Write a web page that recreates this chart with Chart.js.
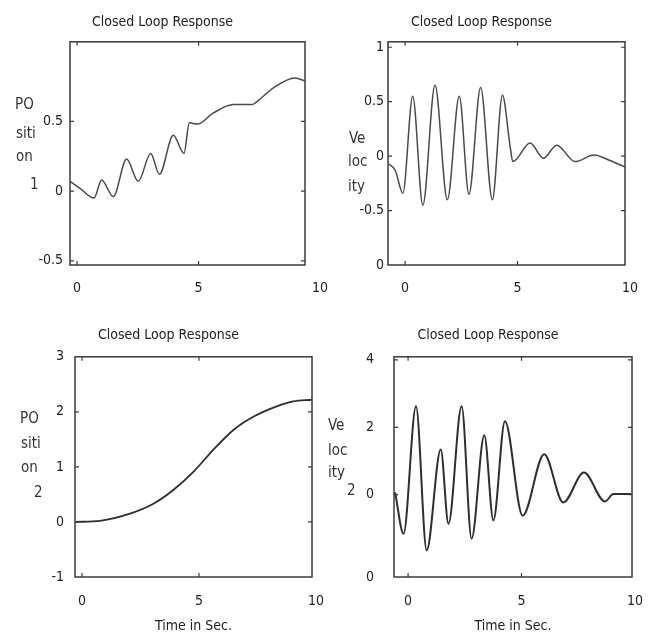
<!DOCTYPE html>
<html>
<head>
<meta charset="utf-8">
<script src="https://cdn.jsdelivr.net/npm/chart.js@4.4.1/dist/chart.umd.min.js"></script>
<style>
  html, body { margin: 0; padding: 0; background: #fff; width: 651px; height: 638px; overflow: hidden; }
  canvas { position: absolute; }
  .yl { position: absolute; font: 15px 'Liberation Sans Narrow', 'DejaVu Sans Condensed', sans-serif; color: #333; line-height: 16px; white-space: nowrap; }
</style>
</head>
<body>
<canvas id="c1" width="332" height="310" style="left:20px;top:0px"></canvas>
<canvas id="c2" width="322" height="310" style="left:338px;top:0px"></canvas>
<canvas id="c3" width="332" height="328" style="left:25px;top:310px"></canvas>
<canvas id="c4" width="324" height="328" style="left:344px;top:310px"></canvas>

<span class="yl" style="left:15px;top:96px">PO</span>
<span class="yl" style="left:16px;top:125px">siti</span>
<span class="yl" style="left:16px;top:148px">on</span>
<span class="yl" style="left:30px;top:176px">1</span>

<span class="yl" style="left:349px;top:130px">Ve</span>
<span class="yl" style="left:348px;top:153px">loc</span>
<span class="yl" style="left:348px;top:178px">ity</span>

<span class="yl" style="left:20px;top:410px">PO</span>
<span class="yl" style="left:21px;top:435px">siti</span>
<span class="yl" style="left:21px;top:459px">on</span>
<span class="yl" style="left:34px;top:484px">2</span>

<span class="yl" style="left:328px;top:417px">Ve</span>
<span class="yl" style="left:328px;top:442px">loc</span>
<span class="yl" style="left:328px;top:464px">ity</span>
<span class="yl" style="left:347px;top:482px">2</span>

<script>
const xTicks = [0, 5, 10];

// position 1 (top left)
const pos1Time = [-0.29, 0.12, 0.70, 1.01, 1.49, 2.04, 2.52, 3.03, 3.39, 3.96, 4.40, 4.62, 4.95, 5.61, 6.43, 7.19, 7.53, 8.08, 8.97, 9.38];
const pos1 = [0.07, 0.02, -0.05, 0.08, -0.04, 0.23, 0.07, 0.27, 0.12, 0.40, 0.27, 0.49, 0.48, 0.56, 0.62, 0.62, 0.66, 0.74, 0.81, 0.79];
const pos1Ticks = [-0.5, 0, 0.5];

// velocity 1 (top right)
const vel1Time = [-0.74, -0.44, -0.10, 0.34, 0.79, 1.33, 1.88, 2.41, 2.84, 3.36, 3.88, 4.33, 4.67, 4.79, 5.56, 6.15, 6.74, 7.56, 8.40, 9.11, 9.78];
const vel1 = [-0.07, -0.13, -0.34, 0.55, -0.45, 0.65, -0.40, 0.55, -0.35, 0.63, -0.40, 0.56, 0.09, -0.05, 0.12, -0.02, 0.10, -0.05, 0.01, -0.04, -0.10];
const vel1Ticks = [-1, -0.5, 0, 0.5, 1];
const vel1TickLabels = ['0', '-0.5', '0', '0.5', '1'];

// position 2 (bottom left)
const pos2Time = [-0.3, 0.77, 2.05, 3.05, 3.9, 4.76, 5.61, 6.47, 7.32, 8.32, 9.03, 9.82];
const pos2 = [0, 0.02, 0.15, 0.33, 0.58, 0.91, 1.31, 1.67, 1.91, 2.10, 2.19, 2.22];
const pos2Ticks = [-1, 0, 1, 2, 3];

// velocity 2 (bottom right)
const vel2Time = [-0.57, -0.2, 0.35, 0.82, 1.44, 1.78, 2.36, 2.8, 3.36, 3.76, 4.27, 5.05, 6.0, 6.84, 7.75, 8.68, 9.05, 9.85];
const vel2 = [0.07, -1.16, 2.62, -1.65, 1.34, -0.86, 2.62, -1.30, 1.76, -0.76, 2.18, -0.62, 1.20, -0.23, 0.66, -0.20, 0.02, 0.02];
const vel2Ticks = [-2.44, 0, 2, 4];
const vel2TickLabels = ['0', '0', '2', '4'];

Chart.defaults.font.family = "'Liberation Sans Narrow', 'DejaVu Sans Condensed', sans-serif";
Chart.defaults.color = '#222';

// box round the plot + small inward ticks
const frame = {
    id: 'frame',
    afterDatasetsDraw(chart) {
        const a = chart.chartArea;
        const ctx = chart.ctx;
        const sx = chart.scales.x, sy = chart.scales.y;
        ctx.save();
        ctx.strokeStyle = '#3a3a3a';
        ctx.lineWidth = 1.5;
        ctx.strokeRect(a.left, a.top, a.right - a.left, a.bottom - a.top);
        ctx.lineWidth = 1.2;
        ctx.beginPath();
        sx.ticks.forEach(t => {
            if (t.value <= sx.min || t.value >= sx.max) return;
            const px = sx.getPixelForValue(t.value);
            ctx.moveTo(px, a.top); ctx.lineTo(px, a.top + 4);
            ctx.moveTo(px, a.bottom); ctx.lineTo(px, a.bottom - 4);
        });
        sy.ticks.forEach(t => {
            if (t.value <= sy.min || t.value >= sy.max) return;
            const py = sy.getPixelForValue(t.value);
            ctx.moveTo(a.left, py); ctx.lineTo(a.left + 4, py);
            ctx.moveTo(a.right, py); ctx.lineTo(a.right - 4, py);
        });
        ctx.stroke();
        ctx.restore();
    }
};

function makeChart(id, o) {
    return new Chart(document.getElementById(id), {
        type: 'line',
        data: {
            datasets: [{
                data: o.xs.map((x, i) => ({ x: x, y: o.ys[i] })),
                borderColor: o.color,
                borderWidth: o.width,
                pointRadius: 0,
                cubicInterpolationMode: 'monotone',
                fill: false
            }]
        },
        options: {
            responsive: false,
            animation: false,
            events: [],
            layout: { padding: { right: o.padRight } },
            plugins: {
                legend: { display: false },
                tooltip: { enabled: false },
                title: {
                    display: true,
                    text: 'Closed Loop Response',
                    color: '#222',
                    font: { size: 14, weight: 'normal', lineHeight: 1.2 },
                    padding: o.titlePad
                }
            },
            scales: {
                x: {
                    type: 'linear',
                    min: o.xMin, max: o.xMax,
                    grid: { display: false, drawTicks: false },
                    border: { display: false },
                    afterBuildTicks: s => { s.ticks = xTicks.map(v => ({ value: v })); },
                    afterFit: s => { s.height = o.xHeight; },
                    ticks: { autoSkip: false, maxRotation: 0, padding: o.xPad, font: { size: 14 } },
                    title: {
                        display: !!o.xTitle,
                        text: o.xTitle || '',
                        font: { size: 14 },
                        padding: { top: 0, bottom: 3 }
                    }
                },
                y: {
                    min: o.yMin, max: o.yMax,
                    grid: { display: false, drawTicks: false },
                    border: { display: false },
                    afterBuildTicks: s => { s.ticks = o.yTicks.map(v => ({ value: v })); },
                    afterFit: s => { s.width = 50; },
                    ticks: {
                        autoSkip: false,
                        padding: o.yPad,
                        font: { size: 14 },
                        callback: (v, i) => o.yLabels ? o.yLabels[i] : String(v)
                    }
                }
            }
        },
        plugins: [frame]
    });
}

makeChart('c1', {
    xs: pos1Time, ys: pos1, color: '#4a4a4a', width: 1.5,
    xMin: -0.29, xMax: 9.38, yMin: -0.53, yMax: 1.07, yTicks: pos1Ticks,
    padRight: 47, titlePad: { top: 14, bottom: 11 }, xHeight: 45, xPad: 15, yPad: 7
});

makeChart('c2', {
    xs: vel1Time, ys: vel1, color: '#4a4a4a', width: 1.5,
    xMin: -0.76, xMax: 9.78, yMin: -1, yMax: 1.05, yTicks: vel1Ticks, yLabels: vel1TickLabels,
    padRight: 35, titlePad: { top: 14, bottom: 11 }, xHeight: 45, xPad: 15, yPad: 4
});

makeChart('c3', {
    xs: pos2Time, ys: pos2, color: '#2e2e2e', width: 1.8,
    xMin: -0.3, xMax: 9.83, yMin: -1, yMax: 3, yTicks: pos2Ticks,
    padRight: 45, titlePad: { top: 17, bottom: 13 }, xHeight: 61, xPad: 16, yPad: 11,
    xTitle: 'Time in Sec.'
});

makeChart('c4', {
    xs: vel2Time, ys: vel2, color: '#2e2e2e', width: 2,
    xMin: -0.62, xMax: 9.87, yMin: -2.44, yMax: 4.09, yTicks: vel2Ticks, yLabels: vel2TickLabels,
    padRight: 36, titlePad: { top: 17, bottom: 13 }, xHeight: 61, xPad: 16, yPad: 20,
    xTitle: 'Time in Sec.'
});
</script>
</body>
</html>
